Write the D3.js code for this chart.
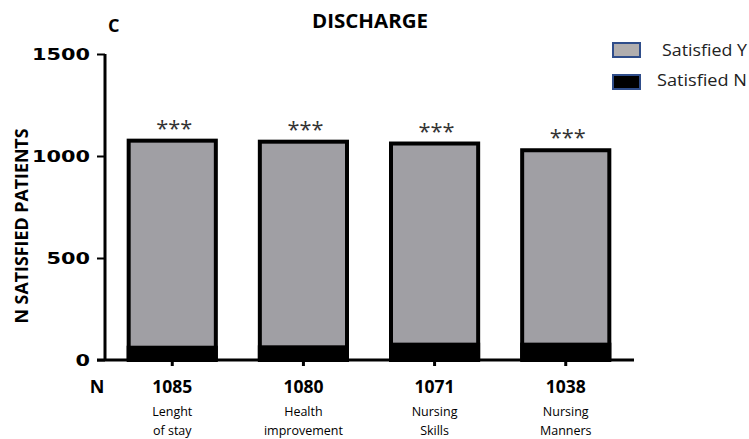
<!DOCTYPE html>
<html>
<head>
<meta charset="utf-8">
<script src="https://cdn.jsdelivr.net/npm/d3@7"></script>
<style>
  body { margin: 0; background: #fff; }
</style>
</head>
<body>
<div id="chart"></div>
<script>
// Data
var categories = ["Lenght of stay", "Health improvement", "Nursing Skills", "Nursing Manners"];
var labelLines = [["Lenght", "of stay"], ["Health", "improvement"], ["Nursing", "Skills"], ["Nursing", "Manners"]];
var totals = [1085, 1080, 1071, 1038];
var satisfiedN = [70, 72, 85, 85];
var yTicks = [0, 500, 1000, 1500];

var W = 749, H = 439;
var margin = {top: 54, right: 114, bottom: 79, left: 97};
var width = W - margin.left - margin.right;
var height = H - margin.top - margin.bottom;

var svg = d3.select("#chart").append("svg")
            .attr("width", W)
            .attr("height", H)
            .style("display", "block");

var g = svg.append("g").attr("transform", "translate(" + margin.left + "," + margin.top + ")");

// Scales
var x = d3.scaleBand().domain(categories).range([10, width - 4]).paddingInner(0.305).paddingOuter(0.15);
var y = d3.scaleLinear().domain([0, 1500]).range([height, 0]);

// Bars: satisfied Y (grey, full height) with black border, black N portion at bottom
var bars = g.selectAll(".bar").data(categories).enter().append("g").attr("class", "bar");

bars.append("rect")
    .attr("x", d => x(d) + 2)
    .attr("y", (d, i) => y(totals[i]) + 2)
    .attr("width", x.bandwidth() - 4)
    .attr("height", (d, i) => y(0) - y(totals[i]) - 2)
    .attr("fill", "#a09fa4")
    .attr("stroke", "#000")
    .attr("stroke-width", 4);

bars.append("rect")
    .attr("x", d => x(d))
    .attr("y", (d, i) => y(satisfiedN[i]))
    .attr("width", x.bandwidth())
    .attr("height", (d, i) => y(0) - y(satisfiedN[i]))
    .attr("fill", "#000");

// Significance stars
bars.append("text")
    .attr("x", d => x(d) + x.bandwidth() / 2 + 2)
    .attr("y", (d, i) => y(totals[i]) - 3)
    .attr("text-anchor", "middle")
    .attr("font-family", "Open Sans")
    .attr("font-size", 22)
    .attr("textLength", 36)
    .attr("lengthAdjust", "spacingAndGlyphs")
    .attr("fill", "#333")
    .text("***");

// Axes
var leftAxis = d3.axisLeft(y).tickValues(yTicks).tickSize(8).tickPadding(7).tickFormat(d3.format("d"));
var yAxisG = g.append("g").attr("transform", "translate(8,0)").call(leftAxis);
yAxisG.select(".domain").attr("stroke", "#000").attr("stroke-width", 3)
      .attr("d", "M0," + y(1500) + "V" + y(0));
yAxisG.selectAll(".tick line").attr("stroke", "#000").attr("stroke-width", 2);
yAxisG.selectAll(".tick text")
      .attr("font-family", "DejaVu Sans")
      .attr("font-weight", "bold")
      .attr("font-size", 16.5)
      .attr("fill", "#000")
      .attr("dy", "0.36em")
      .attr("textLength", d => String(d).length * 14.5)
      .attr("lengthAdjust", "spacingAndGlyphs");

var bottomAxis = d3.axisBottom(x).tickSize(6).tickFormat("");
var xAxisG = g.append("g").attr("transform", "translate(0," + height + ")").call(bottomAxis);
xAxisG.select(".domain").attr("stroke", "#000").attr("stroke-width", 3)
      .attr("d", "M0,0H" + (width - 1));
xAxisG.selectAll(".tick line").attr("stroke", "#000").attr("stroke-width", 3);

// N row and category labels
g.append("text")
 .attr("x", 0).attr("y", height + 33)
 .attr("font-family", "Open Sans").attr("font-weight", "bold").attr("font-size", 18)
 .attr("text-anchor", "middle")
 .text("N");

bars.append("text")
    .attr("x", d => x(d) + x.bandwidth() / 2)
    .attr("y", height + 33)
    .attr("text-anchor", "middle")
    .attr("font-family", "Open Sans")
    .attr("font-weight", "bold")
    .attr("font-size", 18)
    .attr("textLength", 40)
    .attr("lengthAdjust", "spacingAndGlyphs")
    .text((d, i) => totals[i]);

bars.each(function(d, i) {
    var t = d3.select(this).append("text")
              .attr("text-anchor", "middle")
              .attr("font-family", "Open Sans")
              .attr("font-size", 12.5)
              .attr("fill", "#000");
    labelLines[i].forEach(function(line, k) {
        t.append("tspan")
         .attr("x", x(d) + x.bandwidth() / 2)
         .attr("y", height + 56 + k * 19)
         .text(line);
    });
});

// Y-axis title
svg.append("text")
   .attr("transform", "translate(28," + 226 + ") rotate(-90)")
   .attr("text-anchor", "middle")
   .attr("font-family", "Open Sans")
   .attr("font-weight", "bold")
   .attr("font-size", 18)
   .attr("textLength", 195)
   .attr("lengthAdjust", "spacingAndGlyphs")
   .text("N SATISFIED PATIENTS");

// Title and panel letter
svg.append("text").attr("x", 108).attr("y", 32)
   .attr("font-family", "Open Sans").attr("font-weight", "bold").attr("font-size", 18)
   .text("C");
svg.append("text").attr("x", 370).attr("y", 28)
   .attr("text-anchor", "middle")
   .attr("font-family", "Open Sans").attr("font-weight", "bold").attr("font-size", 19)
   .attr("textLength", 116)
   .attr("lengthAdjust", "spacingAndGlyphs")
   .text("DISCHARGE");

// Legend
var legendItems = [
    {label: "Satisfied Y", fill: "#b1aeae", tx: 662, ty: 56, len: 85},
    {label: "Satisfied N", fill: "#000", tx: 657, ty: 86, len: 90}
];
var legend = svg.append("g").selectAll("g").data(legendItems).enter().append("g");
legend.append("rect")
      .attr("x", 613).attr("y", (d, i) => 43 + i * 32)
      .attr("width", 27).attr("height", 14)
      .attr("fill", d => d.fill)
      .attr("stroke", "#2f4d8a").attr("stroke-width", 2);
legend.append("text")
      .attr("x", d => d.tx).attr("y", d => d.ty)
      .attr("font-family", "Open Sans").attr("font-size", 17)
      .attr("textLength", d => d.len)
      .attr("lengthAdjust", "spacingAndGlyphs")
      .attr("fill", "#222")
      .text(d => d.label);
</script>
</body>
</html>
